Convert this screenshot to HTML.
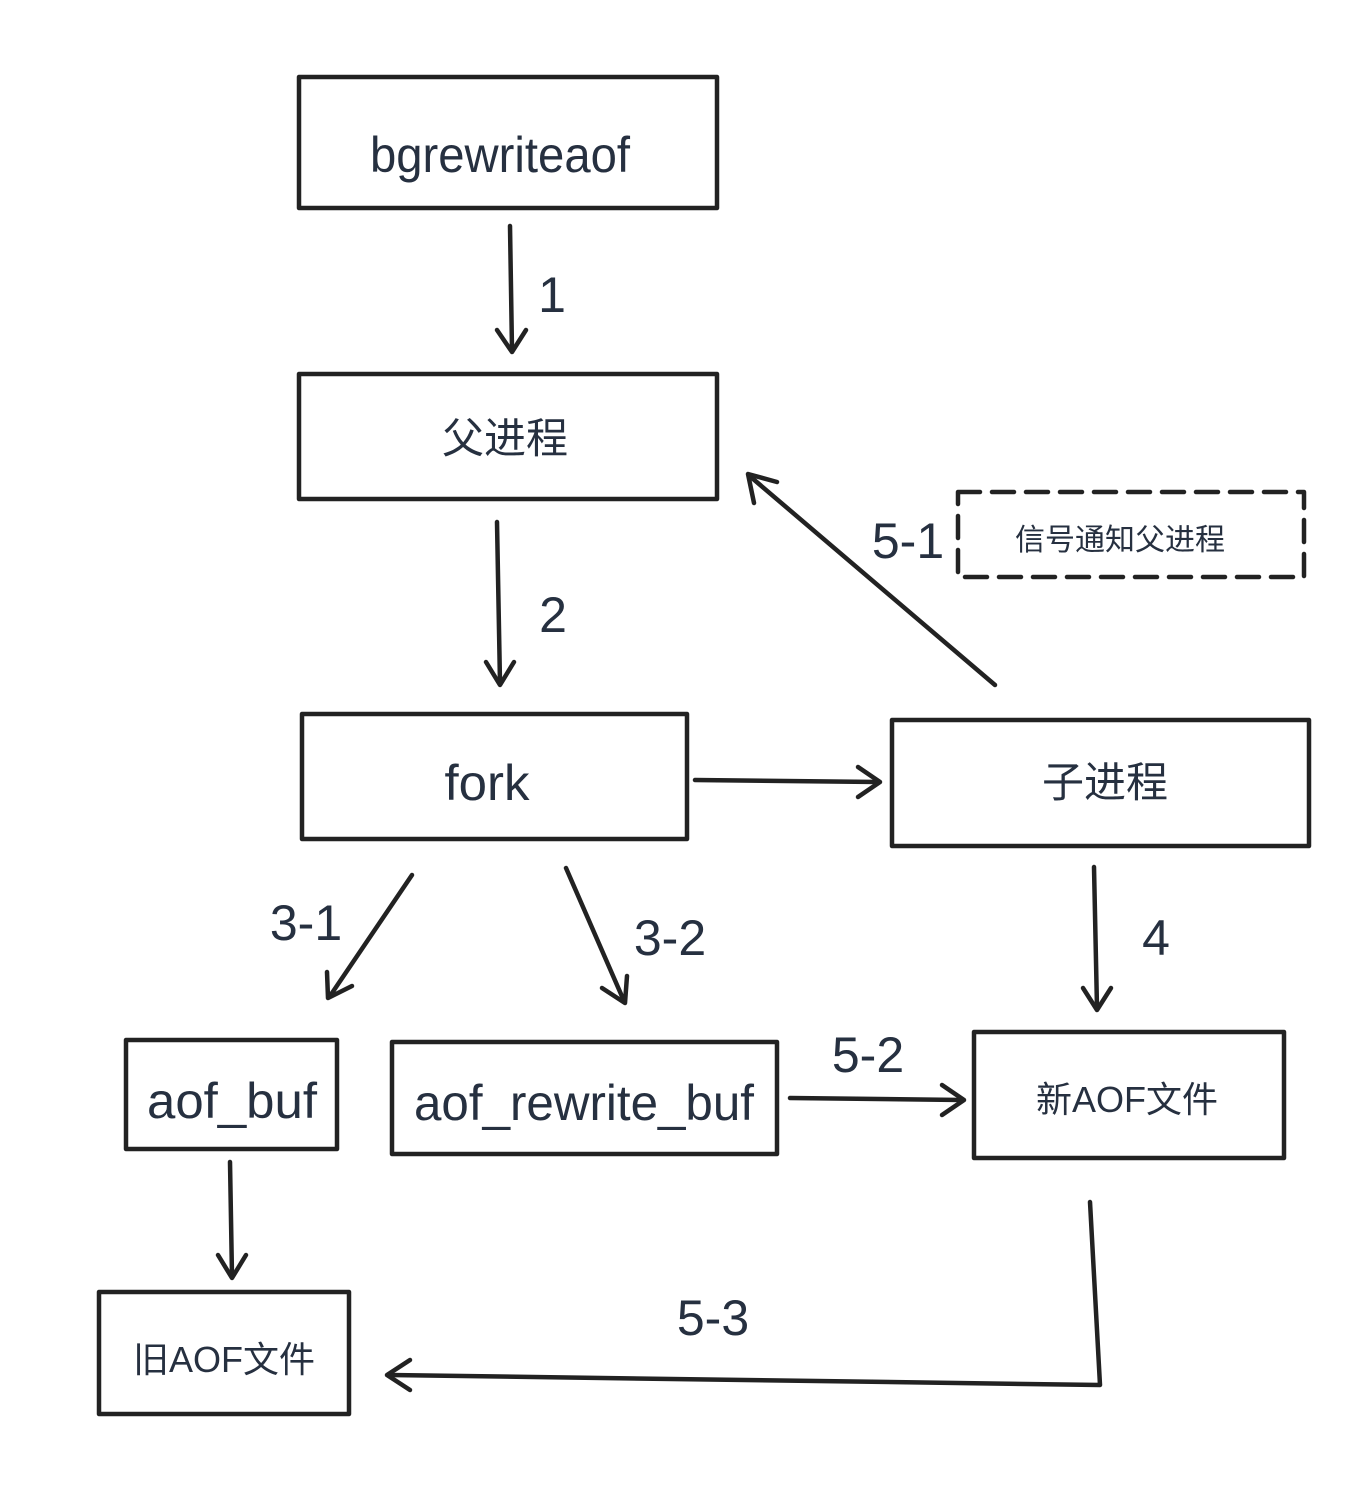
<!DOCTYPE html>
<html><head><meta charset="utf-8"><style>
html,body{margin:0;padding:0;background:#fff;}
svg{display:block}
text{font-family:"Liberation Sans","Noto Sans CJK SC",sans-serif;fill:#263040}
</style></head><body>
<svg width="1366" height="1492" viewBox="0 0 1366 1492" xmlns="http://www.w3.org/2000/svg">
<defs>
<marker id="a" viewBox="0 0 10 10" refX="9" refY="5" markerWidth="7" markerHeight="7" orient="auto" markerUnits="userSpaceOnUse" style="overflow:visible">
</marker>
</defs>
<g fill="none" stroke="#222" stroke-width="4.5" stroke-linecap="round" stroke-linejoin="round">
<!-- boxes -->
<rect x="299" y="77" width="418" height="131"/>
<rect x="299" y="374" width="418" height="125"/>
<rect x="302" y="714" width="385" height="125"/>
<rect x="892" y="720" width="417" height="126"/>
<rect x="958" y="492" width="346" height="85" stroke-dasharray="22 12"/>
<rect x="126" y="1040" width="211" height="109"/>
<rect x="392" y="1042" width="385" height="112"/>
<rect x="974" y="1032" width="310" height="126"/>
<rect x="99" y="1292" width="250" height="122"/>
<!-- arrows lines -->
<path d="M510 226 L512 350"/>
<path d="M497 522 L500 683"/>
<path d="M695 780 L878 782"/>
<path d="M995 685 L752 478"/>
<path d="M412 875 L330 996"/>
<path d="M566 868 L624 1001"/>
<path d="M1094 867 L1097 1008"/>
<path d="M790 1098 L962 1100"/>
<path d="M230 1162 L232 1276"/>
<path d="M1090 1202 L1100 1385 L390 1375"/>
<!-- arrowheads -->
<path d="M497 330 L512 352 L526 330"/>
<path d="M486 662 L500 685 L514 662"/>
<path d="M858 767 L880 782 L858 797"/>
<path d="M754 503 L748 474 L777 482"/>
<path d="M327 972 L328 998 L352 986"/>
<path d="M602 988 L625 1003 L627 976"/>
<path d="M1083 988 L1097 1010 L1111 988"/>
<path d="M942 1085 L964 1100 L942 1115"/>
<path d="M218 1255 L232 1278 L246 1255"/>
<path d="M410 1360 L387 1375 L410 1390"/>
</g>
<g font-size="50" text-anchor="middle">
<text x="500" y="172" textLength="260" lengthAdjust="spacingAndGlyphs">bgrewriteaof</text>
<text x="505" y="453" font-size="42">父进程</text>
<text x="487" y="800" textLength="85" lengthAdjust="spacingAndGlyphs">fork</text>
<text x="1105" y="797" font-size="42">子进程</text>
<text x="1120" y="550" font-size="30">信号通知父进程</text>
<text x="232" y="1118" textLength="170" lengthAdjust="spacingAndGlyphs">aof_buf</text>
<text x="584" y="1120" textLength="340" lengthAdjust="spacingAndGlyphs">aof_rewrite_buf</text>
<text x="1127" y="1112" font-size="36">新AOF文件</text>
<text x="224" y="1372" font-size="36">旧AOF文件</text>
</g>
<g font-size="50" text-anchor="middle" style="fill:#333">
<text x="552" y="312">1</text>
<text x="553" y="632">2</text>
<text x="908" y="558">5-1</text>
<text x="306" y="940">3-1</text>
<text x="670" y="955">3-2</text>
<text x="1156" y="955">4</text>
<text x="868" y="1072">5-2</text>
<text x="713" y="1335">5-3</text>
</g>
</svg>
</body></html>
